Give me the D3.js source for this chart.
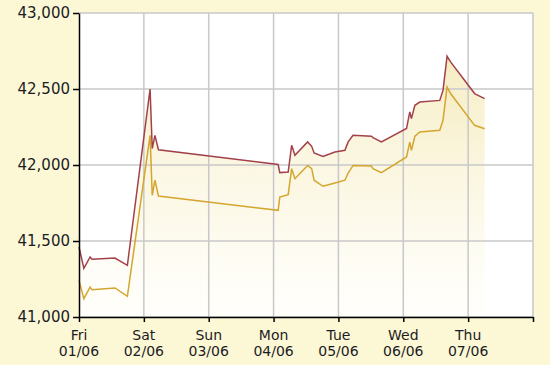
<!DOCTYPE html>
<html>
<head>
<meta charset="utf-8">
<script src="https://cdn.jsdelivr.net/npm/d3@7"></script>
<style>
  body { margin: 0; background: #fcf8d6; }
  svg { display: block; }
</style>
</head>
<body>
<div id="chart"></div>
<script>
// hours since Fri 01/06 00:00
var hours = [0, 1.8, 4.1, 4.8, 13.3, 17.9, 26.3, 27.1, 28.1, 29.4, 73.7, 74.3, 77.4, 78.7, 79.9,
  84.6, 86.1, 87.0, 90.3, 94.7, 98.4, 99.6, 101.4, 108.2, 108.8, 111.9, 121.2, 122.4, 123.0, 124.3,
  126.1, 133.5, 134.7, 136.2, 137.5, 146.4, 150.1];
var sell = [41460, 41320, 41395, 41380, 41388, 41340, 42500, 42108, 42195, 42100, 42003, 41950, 41954, 42130, 42064,
  42152, 42123, 42079, 42057, 42086, 42097, 42152, 42195, 42189, 42180, 42152, 42240, 42349, 42305, 42393,
  42414, 42425, 42491, 42715, 42678, 42470, 42437];
var buy = [41241, 41121, 41197, 41180, 41191, 41136, 42195, 41801, 41900, 41796, 41702, 41789, 41805, 41976, 41910,
  41997, 41976, 41900, 41860, 41882, 41900, 41947, 41997, 41993, 41976, 41950, 42053, 42151, 42097, 42189,
  42217, 42228, 42294, 42513, 42470, 42261, 42239];

var dayNames = ["Fri", "Sat", "Sun", "Mon", "Tue", "Wed", "Thu", ""];
var dayDates = ["01/06", "02/06", "03/06", "04/06", "05/06", "06/06", "07/06", ""];
var yTicks = [41000, 41500, 42000, 42500, 43000];

var w = 550, h = 365;
var margin = { top: 13, right: 17, bottom: 48, left: 79 };

var data = hours.map(function (t, i) { return { t: t, s: sell[i], b: buy[i] }; });

var x = d3.scaleLinear().domain([0, 168]).range([margin.left, w - margin.right]);
var y = d3.scaleLinear().domain([41000, 43000]).range([h - margin.bottom, margin.top]);
var dayTicks = d3.range(0, 169, 24);

var svg = d3.select("#chart").append("svg")
  .attr("width", w)
  .attr("height", h);

svg.append("rect")
  .attr("width", w).attr("height", h)
  .attr("fill", "#fcf8d6");

var defs = svg.append("defs");
var grad = defs.append("linearGradient")
  .attr("id", "fillGrad")
  .attr("gradientUnits", "userSpaceOnUse")
  .attr("x1", 0).attr("x2", 0)
  .attr("y1", y(43000)).attr("y2", y(41000));
grad.append("stop").attr("offset", "0%").attr("stop-color", "#efdf98").attr("stop-opacity", 0.75);
grad.append("stop").attr("offset", "100%").attr("stop-color", "#fffdf0").attr("stop-opacity", 0.2);

// plot background
svg.append("rect")
  .attr("x", x(0)).attr("y", y(43000))
  .attr("width", x(168) - x(0)).attr("height", y(41000) - y(43000))
  .attr("fill", "#ffffff");

// areas
svg.append("path")
  .datum(data)
  .attr("fill", "url(#fillGrad)")
  .attr("d", d3.area().x(function (d) { return x(d.t); }).y0(y(41000)).y1(function (d) { return y(d.s); }));

svg.append("path")
  .datum(data)
  .attr("fill", "url(#fillGrad)")
  .attr("opacity", 0.35)
  .attr("d", d3.area().x(function (d) { return x(d.t); }).y0(y(41000)).y1(function (d) { return y(d.b); }));

// grid
svg.append("g").selectAll("line")
  .data(yTicks)
  .join("line")
  .attr("x1", x(0)).attr("x2", x(168))
  .attr("y1", function (d) { return y(d); }).attr("y2", function (d) { return y(d); })
  .attr("stroke", "#c8c8c8").attr("stroke-width", 1.5);

svg.append("g").selectAll("line")
  .data(dayTicks.slice(1))
  .join("line")
  .attr("x1", function (d) { return x(d); }).attr("x2", function (d) { return x(d); })
  .attr("y1", y(43000)).attr("y2", y(41000))
  .attr("stroke", "#c8c8c8").attr("stroke-width", 1.5);

// lines
svg.append("path")
  .datum(data)
  .attr("fill", "none")
  .attr("stroke", "#d4a62e")
  .attr("stroke-width", 1.5)
  .attr("d", d3.line().x(function (d) { return x(d.t); }).y(function (d) { return y(d.b); }));

svg.append("path")
  .datum(data)
  .attr("fill", "none")
  .attr("stroke", "#a3404a")
  .attr("stroke-width", 1.5)
  .attr("d", d3.line().x(function (d) { return x(d.t); }).y(function (d) { return y(d.s); }));

// y axis
var yAxis = svg.append("g")
  .attr("transform", "translate(" + x(0) + ",0)")
  .call(d3.axisLeft(y).tickValues(yTicks).tickFormat(d3.format(",")).tickSizeInner(6).tickSizeOuter(0).tickPadding(3));
yAxis.select(".domain").attr("stroke", "#000").attr("stroke-width", 1.5);
yAxis.selectAll(".tick line").attr("stroke", "#000").attr("stroke-width", 1.5);
yAxis.selectAll("text")
  .attr("font-family", "DejaVu Sans")
  .attr("font-size", 15)
  .attr("fill", "#1c1c24");

// x axis
var xAxis = svg.append("g")
  .attr("transform", "translate(0," + y(41000) + ")")
  .call(d3.axisBottom(x).tickValues(dayTicks).tickFormat("").tickSizeInner(5).tickSizeOuter(0));
xAxis.select(".domain").attr("stroke", "#000").attr("stroke-width", 1.5);
xAxis.selectAll(".tick line").attr("stroke", "#000").attr("stroke-width", 1.5);

var lab = svg.append("g").selectAll("text")
  .data(dayTicks.slice(0, 7))
  .join("text")
  .attr("x", function (d) { return x(d); })
  .attr("text-anchor", "middle")
  .attr("font-family", "DejaVu Sans")
  .attr("font-size", 14)
  .attr("fill", "#1c1c24");
lab.append("tspan")
  .attr("x", function (d) { return x(d); })
  .attr("y", 340)
  .text(function (d, i) { return dayNames[i]; });
lab.append("tspan")
  .attr("x", function (d) { return x(d); })
  .attr("y", 356)
  .text(function (d, i) { return dayDates[i]; });
</script>
</body>
</html>
